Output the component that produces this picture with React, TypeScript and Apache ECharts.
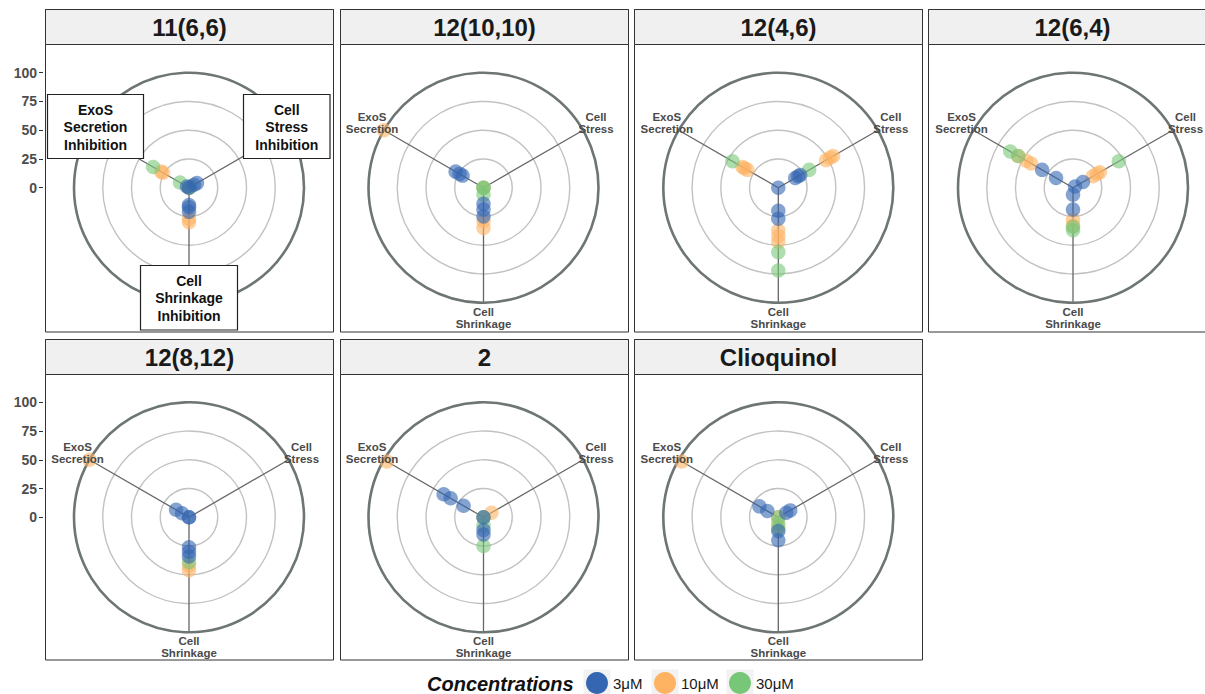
import React, { useEffect, useRef } from 'react';
import * as echarts from 'echarts';

const FONT = '"Liberation Sans", Arial, Helvetica, sans-serif';

// ---- data ----
const panelTitles = ['11(6,6)', '12(10,10)', '12(4,6)', '12(6,4)', '12(8,12)', '2', 'Clioquinol'];
const concentrations = ['3μM', '10μM', '30μM'];
const concColors = ['#3466b1', '#fdb362', '#78c678'];
const axisLabels = ['Cell\nStress', 'ExoS\nSecretion', 'Cell\nShrinkage'];
const boxedLabels = ['Cell\nStress\nInhibition', 'ExoS\nSecretion\nInhibition', 'Cell\nShrinkage\nInhibition'];
const axisPositions = [0, 120, 240]; // Cell Stress, ExoS Secretion, Cell Shrinkage
const radialTicks = [0, 25, 50, 75, 100];

// values per panel (one inner list per panel, in panelTitles order)
const stress3 = [[0, 5, 8], [], [17, 20, 22], [2, 10], [0], [0], [8, 12]];
const stress10 = [[0], [0], [48, 52, 55], [20, 24, 27], [], [8], [0]];
const stress30 = [[2], [0], [31], [46], [], [], []];
const exos3 = [[2], [21, 24, 28], [0], [17, 31], [0, 7, 13], [20, 33, 40], [11, 19]];
const exos10 = [[26, 28], [100], [31, 34, 36], [42, 47, 55], [100], [97], [97]];
const exos30 = [[9, 36], [0], [46], [55, 63], [], [0], [0]];
const shrink3 = [[15, 17, 21], [14, 19, 25], [20, 27], [6, 19], [26, 30, 34], [11, 15], [12, 20]];
const shrink10 = [[27, 30], [29, 35], [37, 42, 47], [28, 33], [42, 46], [0], [8]];
const shrink30 = [[0], [6], [56, 72], [34, 37], [39], [7, 25], [5, 10]];

const stressByConc = [stress3, stress10, stress30];
const exosByConc = [exos3, exos10, exos30];
const shrinkByConc = [shrink3, shrink10, shrink30];

// ---- layout ----
const colLeft = [45.5, 340.5, 634.5, 928.5];
const colCx = [189, 483.5, 778.3, 1073];
const rowTop = [9.5, 339.5];
const rowBottom = [332, 660];
const rowCy = [187.7, 517.3];
const PANEL_W = 288;
const HEADER_H = 35;
const R = 115;

export default function App() {
  const ref = useRef<HTMLDivElement>(null);

  useEffect(() => {
    if (!ref.current) return;
    const chart = echarts.init(ref.current, null, { renderer: 'svg' });

    const polar: any[] = [];
    const angleAxis: any[] = [];
    const radiusAxis: any[] = [];
    const series: any[] = [];
    const graphic: any[] = [];

    panelTitles.forEach((title, p) => {
      const row = p < 4 ? 0 : 1;
      const col = p < 4 ? p : p - 4;
      const cx = colCx[col];
      const cy = rowCy[row];
      const x0 = colLeft[col];
      const y0 = rowTop[row];
      const h = rowBottom[row] - y0;

      polar.push({ center: [cx, cy], radius: R });
      angleAxis.push({
        polarIndex: p,
        type: 'value',
        min: 0,
        max: 360,
        interval: 120,
        startAngle: 30,
        clockwise: false,
        z: 1,
        axisLine: { show: true, lineStyle: { color: '#6d7674', width: 2.6 } },
        axisTick: { show: false },
        axisLabel: { show: false },
        splitLine: { show: true, lineStyle: { color: '#666666', width: 1.3 } },
      });
      radiusAxis.push({
        polarIndex: p,
        type: 'value',
        min: radialTicks[0],
        max: radialTicks[radialTicks.length - 1],
        interval: radialTicks[1] - radialTicks[0],
        z: 0,
        axisLine: { show: false },
        axisTick: { show: false },
        axisLabel: { show: false },
        splitLine: { show: true, lineStyle: { color: '#c2c2c2', width: 1.4 } },
      });

      [1, 2, 0].forEach((c) => {
        const data: number[][] = [];
        stressByConc[c][p].forEach((v) => data.push([v, axisPositions[0]]));
        exosByConc[c][p].forEach((v) => data.push([v, axisPositions[1]]));
        shrinkByConc[c][p].forEach((v) => data.push([v, axisPositions[2]]));
        series.push({
          type: 'scatter',
          name: concentrations[c],
          coordinateSystem: 'polar',
          polarIndex: p,
          symbol: 'circle',
          symbolSize: 14.5,
          z: 3,
          itemStyle: { color: concColors[c], opacity: 0.6 },
          emphasis: { disabled: true },
          data,
        });
      });

      // frame + header
      graphic.push({
        type: 'rect',
        z: 5,
        shape: { x: x0, y: y0, width: PANEL_W, height: h },
        style: { fill: 'none', stroke: '#333', lineWidth: 1 },
      });
      graphic.push({
        type: 'rect',
        z: 5,
        shape: { x: x0, y: y0, width: PANEL_W, height: HEADER_H },
        style: { fill: '#f0f0f0', stroke: '#333', lineWidth: 1 },
      });
      graphic.push({
        type: 'text',
        z: 6,
        x: x0 + PANEL_W / 2,
        y: y0 + HEADER_H / 2 + 0.5,
        style: {
          text: title,
          fill: '#1a1a1a',
          fontFamily: FONT,
          fontSize: 24,
          fontWeight: 'bold',
          textAlign: 'center',
          textVerticalAlign: 'middle',
          align: 'center',
          verticalAlign: 'middle',
        },
      });

      if (p === 0) {
        const boxes = [
          { x: 243.5, y: 94.5, w: 86.5, h: 64 },
          { x: 47.5, y: 94.5, w: 96, h: 64 },
          { x: 140.5, y: 265.5, w: 97, h: 64.5 },
        ];
        boxes.forEach((b, k) => {
          graphic.push({
            type: 'rect',
            z: 20,
            shape: { x: b.x, y: b.y, width: b.w, height: b.h },
            style: { fill: '#ffffff', stroke: '#222', lineWidth: 1.2 },
          });
          graphic.push({
            type: 'text',
            z: 21,
            x: b.x + b.w / 2,
            y: b.y + b.h / 2 + 0.5,
            style: {
              text: boxedLabels[k],
              fill: '#111',
              fontFamily: FONT,
              fontSize: 14,
              fontWeight: 'bold',
              lineHeight: 17.5,
              textAlign: 'center',
              textVerticalAlign: 'middle',
              align: 'center',
              verticalAlign: 'middle',
            },
          });
        });
      } else {
        const offs = [
          [112.5, -64.5],
          [-111.5, -64.5],
          [0, 130],
        ];
        offs.forEach((o, k) => {
          graphic.push({
            type: 'text',
            z: 20,
            x: cx + o[0],
            y: cy + o[1],
            style: {
              text: axisLabels[k],
              fill: '#4a4a4a',
              fontFamily: FONT,
              fontSize: 11.5,
              fontWeight: 'bold',
              lineHeight: 12,
              textAlign: 'center',
              textVerticalAlign: 'middle',
              align: 'center',
              verticalAlign: 'middle',
            },
          });
        });
      }
    });

    // legend
    const legendCenters = [597, 665, 740];
    graphic.push({
      type: 'text',
      z: 6,
      x: 427,
      y: 684,
      style: {
        text: 'Concentrations',
        fill: '#111',
        fontFamily: FONT,
        fontSize: 20,
        fontWeight: 'bold',
        fontStyle: 'italic',
        textAlign: 'left',
        textVerticalAlign: 'middle',
        align: 'left',
        verticalAlign: 'middle',
      },
    });
    legendCenters.forEach((lc) => {
      graphic.push({
        type: 'rect',
        z: 0,
        shape: { x: lc - 13.5, y: 669.5, width: 27, height: 27 },
        style: { fill: '#f2f2f2' },
      });
    });
    const legend = concentrations.map((name, c) => ({
      data: [{ name, itemStyle: { color: concColors[c], opacity: 1 } }],
      left: legendCenters[c] - 11,
      top: 672,
      itemWidth: 22,
      itemHeight: 22,
      icon: 'circle',
      selectedMode: false,
      padding: 0,
      z: 10,
      textStyle: { fontFamily: FONT, fontSize: 15, color: '#1a1a1a' },
    }));

    // y axes for left column
    const grid = rowCy.map((cy) => ({ left: 43, top: cy - R, width: 4, height: R, containLabel: false }));
    const xAxis = rowCy.map((_, g) => ({ gridIndex: g, type: 'value', show: false, min: 0, max: 1 }));
    const yAxis = rowCy.map((_, g) => ({
      gridIndex: g,
      type: 'value',
      min: radialTicks[0],
      max: radialTicks[radialTicks.length - 1],
      interval: radialTicks[1] - radialTicks[0],
      position: 'left',
      axisLine: { show: false },
      axisTick: { show: true, length: 4, lineStyle: { color: '#333', width: 1 } },
      splitLine: { show: false },
      axisLabel: {
        show: true,
        margin: 6,
        fontFamily: FONT,
        fontSize: 14,
        fontWeight: 'bold',
        color: '#4d4d4d',
      },
    }));
    rowCy.forEach((_, g) => {
      series.push({ type: 'scatter', xAxisIndex: g, yAxisIndex: g, data: [], silent: true });
    });

    chart.setOption({
      animation: false,
      backgroundColor: '#ffffff',
      polar,
      angleAxis,
      radiusAxis,
      grid,
      xAxis,
      yAxis,
      legend,
      graphic,
      series,
    });

    return () => chart.dispose();
  }, []);

  return (
    <div
      ref={ref}
      style={{ position: 'absolute', left: 0, top: 0, width: 1205, height: 694 }}
    />
  );
}
